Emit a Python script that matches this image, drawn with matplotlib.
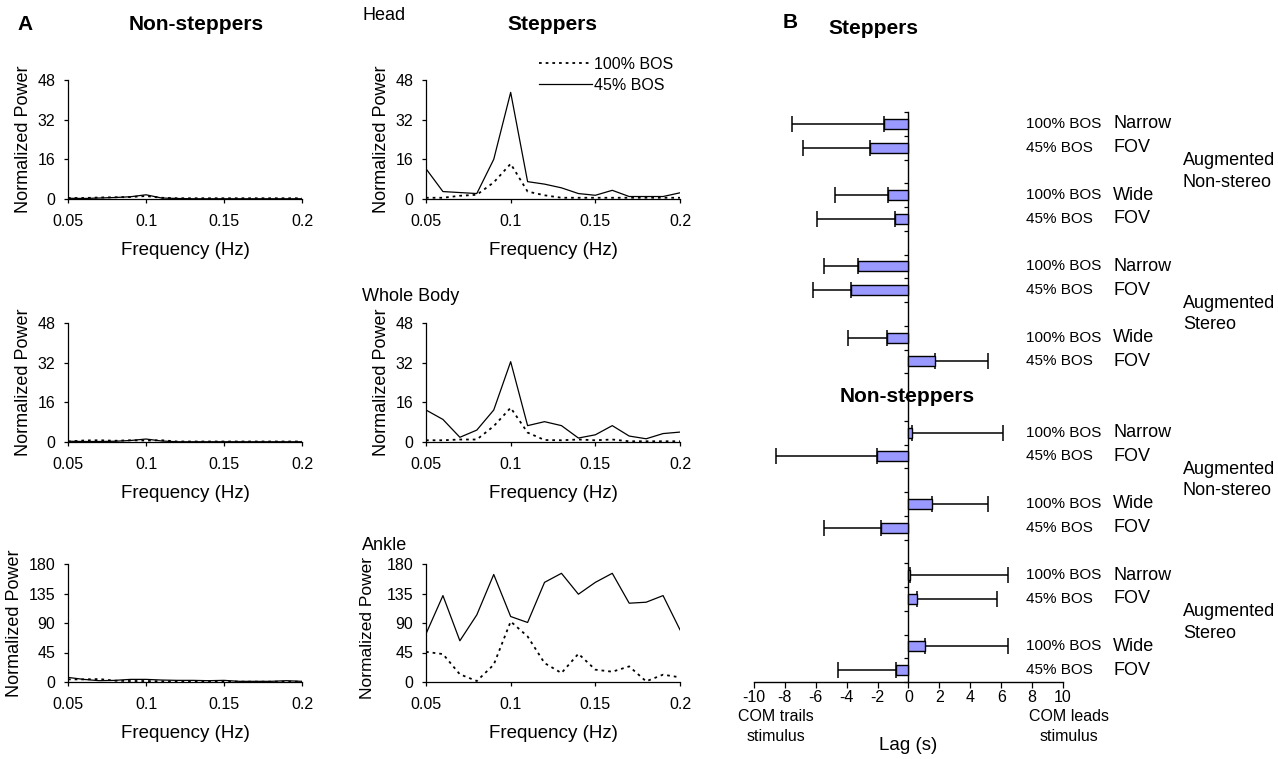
import numpy as np
import matplotlib
matplotlib.use("Agg")
import matplotlib.pyplot as plt

plt.rcParams['font.family'] = ['Liberation Sans', 'DejaVu Sans']
plt.rcParams['axes.unicode_minus'] = False

# ---- panel A data: power spectra, 0.05-0.2 Hz
freqs = [0.05, 0.06, 0.07, 0.08, 0.09, 0.10, 0.11, 0.12,
         0.13, 0.14, 0.15, 0.16, 0.17, 0.18, 0.19, 0.20]

ns_head_45  = [0.3, 0.2, 0.4, 0.6, 0.9, 1.7, 0.4, 0.2, 0.1, 0.1, 0.1, 0.1, 0.1, 0.1, 0.1, 0.1]
ns_head_100 = [0.4, 0.4, 0.6, 0.7, 0.8, 1.2, 0.5, 0.3, 0.3, 0.3, 0.3, 0.3, 0.3, 0.3, 0.3, 0.3]
ns_body_45  = [0.3, 0.2, 0.2, 0.3, 0.6, 1.2, 0.4, 0.1, 0.1, 0.1, 0.1, 0.1, 0.1, 0.1, 0.1, 0.1]
ns_body_100 = [0.2, 0.6, 0.7, 0.5, 0.7, 0.6, 0.7, 0.2, 0.2, 0.2, 0.2, 0.2, 0.2, 0.2, 0.2, 0.2]
ns_ank_45   = [7.0, 4.0, 2.0, 2.5, 4.0, 4.0, 3.0, 2.5, 2.5, 2.0, 2.5, 1.0, 1.0, 1.0, 2.0, 1.0]
ns_ank_100  = [4.0, 4.0, 4.5, 2.0, 1.5, 1.5, 1.0, 1.0, 1.0, 1.0, 1.0, 0.5, 0.5, 0.5, 0.5, 0.5]

st_head_45  = [12.2, 3.0, 2.6, 2.2, 16.0, 43.0, 7.0, 6.0, 4.5, 2.2, 1.5, 3.5, 1.0, 1.0, 1.0, 2.5]
st_head_100 = [0.5, 0.5, 1.3, 1.7, 6.7, 14.2, 3.0, 1.5, 0.5, 0.5, 0.5, 0.5, 0.5, 0.5, 0.5, 0.5]
st_body_45  = [12.9, 9.1, 1.9, 4.8, 12.9, 32.4, 6.6, 8.2, 6.6, 1.6, 2.9, 6.6, 2.4, 1.3, 3.4, 4.0]
st_body_100 = [0.7, 0.7, 1.0, 1.0, 6.4, 13.8, 3.8, 0.8, 0.7, 1.0, 0.7, 1.0, 0.3, 0.3, 0.3, 0.3]
st_ank_45   = [73.5, 131.8, 62.9, 102.4, 164.0, 99.9, 90.8, 152.0,
               165.8, 133.9, 152.0, 165.8, 120.2, 121.7, 131.8, 79.6]
st_ank_100  = [46.0, 42.6, 11.7, 1.5, 26.4, 92.3, 69.5, 28.9,
               13.7, 43.1, 18.8, 15.7, 23.8, 1.0, 11.2, 7.1]

y_ticks_small = [0, 16, 32, 48]
y_ticks_ankle = [0, 45, 90, 135, 180]
x_ticks = [0.05, 0.1, 0.15, 0.2]
x_ticklabels = ["0.05", "0.1", "0.15", "0.2"]

# ---- panel B data: lag (s) and one-sided SD
cond_bos = ["100% BOS", "45% BOS"] * 4
cond_fov = ["Narrow", "FOV", "Wide", "FOV"] * 2
groups = ["Augmented\nNon-stereo", "Augmented\nStereo"]
st_lag = [-1.6, -2.5, -1.3, -0.85, -3.3, -3.75, -1.4, 1.7]
st_err = [5.95, 4.3, 3.45, 5.1, 2.2, 2.4, 2.5, 3.45]
ns_lag = [0.2, -2.05, 1.55, -1.8, 0.1, 0.55, 1.1, -0.8]
ns_err = [5.9, 6.5, 3.6, 3.7, 6.35, 5.15, 5.35, 3.75]

W, H = 1278, 759
fig = plt.figure(figsize=(W / 100, H / 100), dpi=100)


def rect(x0, y0, x1, y1):
    # pixel box -> figure fraction
    return [x0 / W, 1 - y1 / H, (x1 - x0) / W, (y1 - y0) / H]


def ftext(x, y, s, **kw):
    fig.text(x / W, 1 - y / H, s, **kw)


def spectrum(box, y45, y100, yticks):
    ax = fig.add_axes(rect(*box))
    ax.plot(freqs, y100, color="black", lw=1.3, ls=(0, (1.5, 2.2)), label="100% BOS")
    ax.plot(freqs, y45, color="black", lw=0.9, label="45% BOS")
    ax.set_xlim(0.05, 0.2)
    ax.set_ylim(0, yticks[-1])
    ax.set_xticks(x_ticks)
    ax.set_xticklabels(x_ticklabels)
    ax.set_yticks(yticks)
    for s in ["top", "right"]:
        ax.spines[s].set_visible(False)
    for s in ["left", "bottom"]:
        ax.spines[s].set_linewidth(0.9)
    ax.tick_params(axis="x", length=3, width=0.9, pad=8, labelsize=11.5)
    ax.tick_params(axis="y", length=3, width=0.9, pad=6, labelsize=11.5)
    ax.set_xlabel("Frequency (Hz)", fontsize=13.5, labelpad=9)
    ax.set_ylabel("Normalized Power", fontsize=13, labelpad=4)
    return ax


col_l = (68, 302)
col_m = (426, 680)
rows = [(80, 199), (323, 442), (564, 682)]

spectrum((col_l[0], rows[0][0], col_l[1], rows[0][1]), ns_head_45, ns_head_100, y_ticks_small)
spectrum((col_l[0], rows[1][0], col_l[1], rows[1][1]), ns_body_45, ns_body_100, y_ticks_small)
spectrum((col_l[0], rows[2][0], col_l[1], rows[2][1]), ns_ank_45, ns_ank_100, y_ticks_ankle)

ax_h = spectrum((col_m[0], rows[0][0], col_m[1], rows[0][1]), st_head_45, st_head_100, y_ticks_small)
spectrum((col_m[0], rows[1][0], col_m[1], rows[1][1]), st_body_45, st_body_100, y_ticks_small)
ax_a = spectrum((col_m[0], rows[2][0], col_m[1], rows[2][1]), st_ank_45, st_ank_100, y_ticks_ankle)
ax_a.yaxis.label.set_fontsize(12.5)
ax_a.yaxis.set_label_coords(-0.2, 0.46)

ax_h.legend(loc="upper left", bbox_to_anchor=(539 / W, 1 - 57 / H),
            bbox_transform=fig.transFigure, frameon=False, fontsize=11.5,
            handlelength=3.3, handletextpad=0.15, labelspacing=0.38,
            borderpad=0, borderaxespad=0)

ftext(362, 16, "Head", fontsize=13, va="center")
ftext(362, 297, "Whole Body", fontsize=13, va="center")
ftext(362, 545, "Ankle", fontsize=13, va="center")

ftext(25, 24, "A", fontsize=15, fontweight="bold", ha="center", va="center")
ftext(196, 25, "Non-steppers", fontsize=15, fontweight="bold", ha="center", va="center")
ftext(552, 25, "Steppers", fontsize=15, fontweight="bold", ha="center", va="center")

# ---- panel B
axb = fig.add_axes(rect(754, 112, 1063, 682))
slot_st = [g * 3 + k for g in range(4) for k in range(2)]
slot_ns = [s + 13 for s in slot_st]
slots = slot_st + slot_ns
lags = st_lag + ns_lag
errs = st_err + ns_err
lo = [e if v < 0 else 0 for v, e in zip(lags, errs)]
hi = [e if v >= 0 else 0 for v, e in zip(lags, errs)]

axb.errorbar(lags, slots, xerr=[lo, hi], fmt="none", ecolor="black",
             elinewidth=1.1, capsize=5.5, capthick=1.1, zorder=2)
axb.barh(slots, lags, height=0.43, color="#9999ff", edgecolor="black",
         linewidth=1.0, zorder=3)

axb.set_xlim(-10, 10)
axb.set_ylim(23.5, -0.5)
axb.set_xticks(range(-10, 11, 2))
axb.set_yticks(np.arange(-0.5, 24, 1))
axb.set_yticklabels([])
axb.spines["left"].set_position(("data", 0))
axb.spines["top"].set_visible(False)
axb.spines["right"].set_visible(False)
axb.spines["left"].set_linewidth(1.0)
axb.spines["bottom"].set_linewidth(1.0)
axb.tick_params(axis="y", length=3, width=0.9)
axb.tick_params(axis="x", length=4, width=0.9, pad=2, labelsize=11.5)

for s, b, f in zip(slots, cond_bos * 2, cond_fov * 2):
    axb.text(7.6, s, b, fontsize=11, va="center", ha="left", clip_on=False)
    axb.text(13.25, s, f, fontsize=13, va="center", ha="left", clip_on=False)

for gi, g in enumerate(groups * 2):
    block = slots[gi * 4:(gi + 1) * 4]
    yc = (block[0] + block[-1]) / 2
    axb.text(17.75, yc, g, fontsize=13, va="center", ha="left",
             linespacing=1.35, clip_on=False)

axb.text(-8.6, 24.65, "COM trails\nstimulus", fontsize=11.5, ha="center", va="top",
         linespacing=1.4, clip_on=False)
axb.text(10.4, 24.65, "COM leads\nstimulus", fontsize=11.5, ha="center", va="top",
         linespacing=1.4, clip_on=False)

ftext(908, 745, "Lag (s)", fontsize=13.5, ha="center", va="center")
ftext(790, 22, "B", fontsize=15, fontweight="bold", ha="center", va="center")
ftext(873, 28, "Steppers", fontsize=15, fontweight="bold", ha="center", va="center")
ftext(907, 396, "Non-steppers", fontsize=15, fontweight="bold", ha="center", va="center")

fig.savefig("out.png", dpi=100)
